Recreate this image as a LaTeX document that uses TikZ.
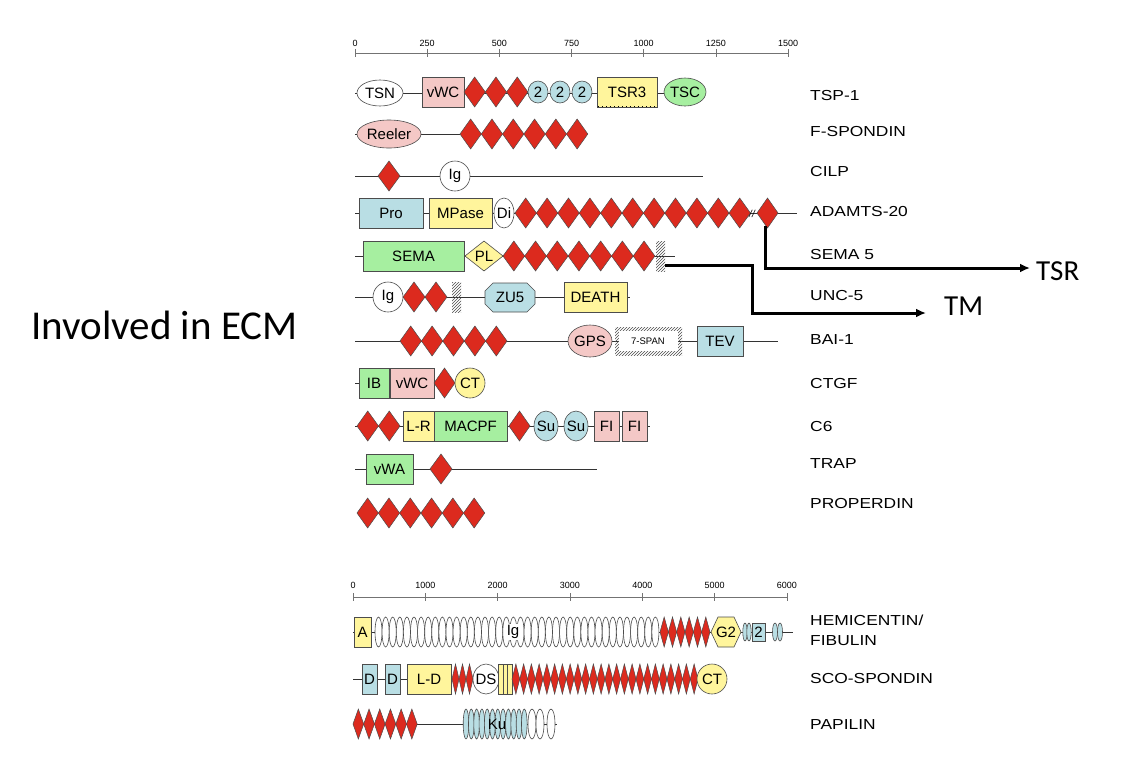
\documentclass[tikz,border=0pt]{standalone}
\usepackage{fontspec}
\setmainfont{Liberation Sans}
\newfontfamily\calfont{Carlito}
\usetikzlibrary{patterns,arrows.meta}
\definecolor{dred}{HTML}{DC2A1E}
\definecolor{pk}{HTML}{F4C8C6}
\definecolor{bl}{HTML}{B9DEE4}
\definecolor{yl}{HTML}{FFF59C}
\definecolor{gr}{HTML}{A6EFA0}
\tikzset{
 dia/.style={fill=dred,draw=black!70,line width=0.5pt},
 dom/.style={draw=black!70,line width=0.6pt},
 bb/.style={draw=black!80,line width=0.7pt},
 ax/.style={draw=black!55,line width=0.6pt},
 lab/.style={font=\fontsize{15}{15}\selectfont,inner sep=0pt},
 nm/.style={font=\fontsize{14.5}{14.5}\selectfont,anchor=west,inner sep=0pt,xscale=1.2,transform shape},
 tk/.style={font=\fontsize{9}{9}\selectfont,inner sep=0pt},
 arr/.style={line width=3pt,-{Latex[length=10pt,width=9pt]}},
 big/.style={font=\calfont\fontsize{29}{29}\selectfont,anchor=west,inner sep=0pt},
}
\newcommand\dmrow[5]{\foreach \k in {1,...,#4}{\path[dia] ({#1+(\k-1)*#3},#2) -- ++({#3/2},{-#5/2}) -- ++({#3/2},{#5/2}) -- ++({-#3/2},{#5/2}) -- cycle;}}
\newcommand\bx[6]{\path[dom,fill=#5] (#1,{#3-#4}) rectangle (#2,{#3+#4}); \node[lab] at ({(#1+#2)/2},#3) {#6};}
\newcommand\el[6]{\path[dom,fill=#5] (#1,#2) ellipse [x radius=#3,y radius=#4]; \node[lab] at (#1,#2) {#6};}
\newcommand\hatchbox[3]{\path[pattern=north east lines,pattern color=black!70] (#1,{#3-15}) rectangle (#2,{#3+15});}
\begin{document}
\begin{tikzpicture}[x=1pt,y=-1pt]
\useasboundingbox (0,0) rectangle (1138,756);
% top axis
\draw[ax] (355,53) -- (788,53);
\foreach \k/\t in {0/0,1/250,2/500,3/750,4/1000,5/1250,6/1500}{
 \draw[ax] ({355+\k*72.17},49) -- ({355+\k*72.17},57);
 \node[tk] at ({355+\k*72.17},43) {\t};}
% TSP-1
\draw[bb] (355,93) -- (706,93);
\el{380}{93}{23}{13}{white}{TSN}
\bx{422}{464}{92}{15}{pk}{vWC}
\dmrow{464}{92}{21.3}{3}{30}
\el{538}{92}{10}{11}{bl}{2}\el{560}{92}{10}{11}{bl}{2}\el{582}{92}{10}{11}{bl}{2}
\bx{597}{657}{92}{15}{yl}{TSR3}
\draw[dash pattern=on 1pt off 3pt,line width=1pt] (598,106) -- (656,106);
\el{685}{92}{21}{14}{gr}{TSC}
% F-SPONDIN
\draw[bb] (355,134) -- (460,134);
\el{389}{134}{32}{14}{pk}{Reeler}
\dmrow{460}{134}{21.3}{6}{30}
% CILP
\draw[bb] (355,176) -- (703,176);
\dmrow{378}{176}{22}{1}{30}
\el{455}{176}{15}{15}{white}{Ig}
% ADAMTS-20
\draw[bb] (355,213) -- (797,213);
\bx{359}{423}{213}{15}{bl}{Pro}
\bx{429}{492}{213}{15}{yl}{MPase}
\el{504}{213}{10}{15}{white}{Di}
\dmrow{515}{213}{21.4}{11}{30}
\node[font=\fontsize{10}{10}\selectfont\itshape,inner sep=0pt] at (752,214) {//};
\dmrow{757}{213}{21}{1}{30}
% SEMA 5
\draw[bb] (355,256) -- (675,256);
\bx{363}{464}{256}{15}{gr}{SEMA}
\path[dom,fill=yl] (465,256) -- (484,241) -- (503,256) -- (484,271) -- cycle;
\node[lab] at (484,256) {PL};
\dmrow{503}{256}{21.7}{7}{30}
\hatchbox{656}{665}{256}
% UNC-5
\draw[bb] (355,297) -- (630,297);
\el{388}{297}{15}{15}{white}{Ig}
\dmrow{403}{297}{22}{2}{30}
\hatchbox{452}{461}{297}
\path[dom,fill=bl] (493,283) -- (527,283) -- (535,291) -- (535,304) -- (527,312) -- (493,312) -- (485,304) -- (485,291) -- cycle;
\node[lab] at (510,297) {ZU5};
\bx{564}{627}{297}{15}{yl}{DEATH}
% BAI-1
\draw[bb] (355,341) -- (778,341);
\dmrow{400}{341}{21.4}{5}{30}
\el{590}{341}{22}{16}{pk}{GPS}
\path[pattern=north east lines,pattern color=black!70] (615,327) rectangle (682,355);
\path[fill=white] (619,331) rectangle (678,351);
\node[font=\fontsize{9.5}{9.5}\selectfont] at (648,341) {7-SPAN};
\bx{697}{743}{341}{15}{bl}{TEV}
% CTGF
\draw[bb] (355,383) -- (360,383);
\bx{359}{389}{383}{15}{gr}{IB}
\bx{390}{434}{383}{15}{pk}{vWC}
\dmrow{434}{383}{21}{1}{30}
\el{470}{383}{15}{15}{yl}{CT}
% C6
\draw[bb] (355,426) -- (650,426);
\dmrow{357}{426}{21.5}{2}{30}
\bx{403}{434}{426}{15}{yl}{L-R}
\bx{434}{507}{426}{15}{gr}{MACPF}
\dmrow{509}{426}{21}{1}{30}
\el{546}{426}{12}{15}{bl}{Su}\el{576}{426}{12}{15}{bl}{Su}
\bx{594}{619}{426}{15}{pk}{FI}\bx{622}{647}{426}{15}{pk}{FI}
% TRAP
\draw[bb] (355,469) -- (597,469);
\bx{366}{413}{469}{15}{gr}{vWA}
\dmrow{430}{469}{22}{1}{30}
% PROPERDIN
\dmrow{357}{513}{21.3}{6}{30}
% names
\foreach \y/\t in {96/TSP-1,132/F-SPONDIN,172/CILP,212/ADAMTS-20,255/SEMA 5,296/UNC-5,340/BAI-1,384/CTGF,426/C6,464/TRAP,503/PROPERDIN,678/SCO-SPONDIN,724/PAPILIN}
 \node[nm] at (810,\y) {\t};
\node[nm] at (810,620) {HEMICENTIN/};
\node[nm] at (810,641) {FIBULIN};
% bottom axis
\draw[ax] (353,597) -- (787,597);
\foreach \k/\t in {0/0,1/1000,2/2000,3/3000,4/4000,5/5000,6/6000}{
 \draw[ax] ({353+\k*72.33},593) -- ({353+\k*72.33},601);
 \node[tk] at ({353+\k*72.33},585) {\t};}
% HEMICENTIN
\draw[bb] (353,632) -- (793,632);
\bx{354}{371}{632}{15}{yl}{A}
\foreach \k in {0,...,39}{\path[dom,fill=white] ({378.5+\k*7.1},632) ellipse [x radius=3.5,y radius=15];}
\node[lab,fill=white,inner sep=1pt] at (513,632) {Ig};
\dmrow{660}{632}{8.33}{6}{30}
\path[dom,fill=yl] (718,617) -- (734,617) -- (741,632) -- (734,647) -- (718,647) -- (711,632) -- cycle;
\node[lab] at (726,632) {G2};
\foreach \x in {745,749}{\path[dom,fill=bl] (\x,632) ellipse [x radius=2.2,y radius=9];}
\bx{752}{765}{632}{9}{bl}{2}
\foreach \x in {775,780}{\path[dom,fill=bl] (\x,632) ellipse [x radius=2.5,y radius=9];}
% SCO-SPONDIN
\draw[bb] (353,679) -- (727,679);
\bx{362}{377}{679}{15}{bl}{D}
\bx{385}{400}{679}{15}{bl}{D}
\bx{407}{451}{679}{15}{yl}{L-D}
\dmrow{452}{679}{7}{3}{30}
\el{486}{679}{13}{15}{white}{DS}
\path[dom,fill=yl] (498,664) rectangle (512,694);
\draw[dom] (503,664) -- (503,694) (507,664) -- (507,694);
\dmrow{512}{679}{7.75}{24}{30}
\el{712}{679}{15}{15}{yl}{CT}
% PAPILIN
\draw[bb] (353,724) -- (557,724);
\dmrow{353}{724}{10.7}{6}{30}
\foreach \k in {0,...,11}{\path[dom,fill=bl] ({466+\k*5.3},724) ellipse [x radius=2.8,y radius=15];}
\node[lab] at (497,724) {Ku};
\foreach \x in {532,540,551}{\path[dom,fill=white] (\x,724) ellipse [x radius=4,y radius=15];}
% left title
\node[font=\calfont\fontsize{41}{41}\selectfont,anchor=west,inner sep=0pt] (ecm) at (31,325) {Involved in ECM};
% annotations
\coordinate (tsrs) at (765,226);
\coordinate (tsre) at (1030,268);
\node[big] (tsr) at (1036,271) {TSR};
\draw[arr] (tsrs) |- (tsre);
\coordinate (tms) at (665,265);
\coordinate (tme) at (926,313);
\node[big] (tm) at (944,306) {TM};
\draw[arr] (tms) -- (752,265) |- (tme);
\end{tikzpicture}
\end{document}
